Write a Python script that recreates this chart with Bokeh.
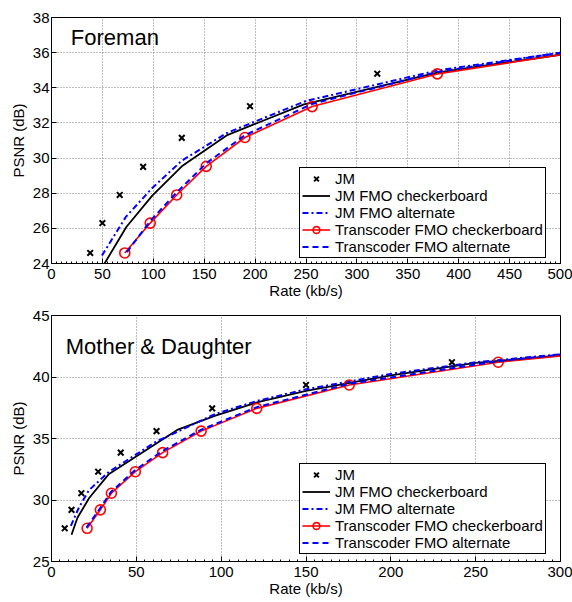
from bokeh.plotting import figure
from bokeh.models import Label, SingleIntervalTicker
from bokeh.layouts import column
from bokeh.embed import file_html
from bokeh.resources import INLINE

FONT = "Liberation Sans"

# ---------------- Foreman ----------------
fm_title = "Foreman"
fm_jm_rate = [38, 50, 67, 90, 128, 195, 320]
fm_jm_psnr = [24.6, 26.3, 27.9, 29.5, 31.15, 32.95, 34.8]

fm_jmchk_rate = [48, 73.5, 99, 128, 172, 248, 380, 500]
fm_jmchk_psnr = [23.6, 26.08, 27.86, 29.53, 31.29, 33.06, 34.88, 35.88]

fm_jmalt_rate = [49.5, 73, 99, 128, 172, 250, 380, 500]
fm_jmalt_psnr = [24.45, 26.65, 28.3, 29.85, 31.42, 33.25, 35.0, 36.0]

fm_trchk_rate = [72, 97, 123, 152, 190, 256, 379, 500]
fm_trchk_psnr = [24.6, 26.3, 27.9, 29.53, 31.17, 32.93, 34.79, 35.88]

fm_tralt_rate = [74, 97.5, 123, 152, 190, 256, 379, 500]
fm_tralt_psnr = [24.65, 26.45, 28.05, 29.7, 31.3, 33.08, 34.9, 36.0]

# ---------------- Mother & Daughter ----------------
md_title = "Mother & Daughter"
md_jm_rate = [7.8, 11.8, 17.6, 27.5, 40.8, 61.9, 94.7, 150, 236]
md_jm_psnr = [27.7, 29.2, 30.55, 32.3, 33.85, 35.6, 37.45, 39.35, 41.2]

md_jmchk_rate = [11.8, 15.3, 22.2, 33.9, 74.1, 96.6, 121, 150, 200, 250, 300]
md_jmchk_psnr = [27.17, 28.56, 30.16, 32.12, 35.7, 36.86, 37.93, 38.87, 40.13, 41.15, 41.76]

md_jmalt_rate = [11.4, 16.2, 22.1, 33.9, 61.4, 96.6, 121, 150, 200, 250, 300]
md_jmalt_psnr = [27.9, 29.4, 30.8, 32.3, 34.72, 37.0, 38.05, 39.0, 40.25, 41.2, 41.85]

md_trchk_rate = [21, 28.8, 35.3, 49.4, 65.5, 88.2, 121, 175.5, 263.3, 300]
md_trchk_psnr = [27.7, 29.2, 30.55, 32.3, 33.85, 35.6, 37.45, 39.35, 41.2, 41.72]

md_tralt_rate = [20.6, 28.5, 35, 49, 65, 88, 121, 175.5, 263, 300]
md_tralt_psnr = [27.76, 29.3, 30.65, 32.4, 33.95, 35.7, 37.55, 39.45, 41.28, 41.82]

LEGEND = ["JM", "JM FMO checkerboard", "JM FMO alternate",
          "Transcoder FMO checkerboard", "Transcoder FMO alternate"]


def panel(title, title_xy, xr, yr, xstep, ystep, series, top_border,
          frame_h, legend_loc):
    p = figure(frame_width=509, frame_height=frame_h, x_range=xr, y_range=yr,
               min_border_left=51, min_border_right=12, min_border_top=top_border,
               min_border_bottom=0,
               output_backend="svg", toolbar_location=None)
    p.background_fill_color = "white"
    p.border_fill_color = "white"
    p.outline_line_color = "black"
    p.outline_line_width = 1
    p.outline_line_alpha = 1

    p.xaxis.ticker = SingleIntervalTicker(interval=xstep, num_minor_ticks=10)
    p.yaxis.ticker = SingleIntervalTicker(interval=ystep, num_minor_ticks=0)
    for ax in (p.xaxis, p.yaxis):
        ax.axis_line_color = "black"
        ax.major_tick_in = 5
        ax.major_tick_out = 0
        ax.major_tick_line_color = "black"
        ax.major_label_text_font = FONT
        ax.major_label_text_font_size = "15px"
        ax.major_label_text_color = "black"
        ax.axis_label_text_font = FONT
        ax.axis_label_text_font_size = "15px"
        ax.axis_label_text_font_style = "normal"
        ax.axis_label_text_color = "black"
    p.xaxis.major_label_standoff = 5
    p.yaxis.major_label_standoff = 2
    p.xaxis.minor_tick_in = 2
    p.xaxis.minor_tick_out = 0
    p.xaxis.minor_tick_line_color = "black"
    p.yaxis.minor_tick_line_color = None
    p.xaxis.axis_label = "Rate (kb/s)"
    p.yaxis.axis_label = "PSNR (dB)"
    p.xaxis.axis_label_standoff = 0
    p.yaxis.axis_label_standoff = 3

    for g in (p.xgrid, p.ygrid):
        g.grid_line_color = "#7a7a7a"
        g.grid_line_dash = "1 2"
        g.grid_line_width = 1

    (jr, jp), (cr, cp), (ar, ap), (tr, tp), (sr, sp) = series
    p.scatter(jr, jp, marker="x", size=8, line_width=2, color="black",
              legend_label=LEGEND[0])
    p.line(cr, cp, line_color="black", line_width=1.8, legend_label=LEGEND[1])
    p.line(ar, ap, line_color="blue", line_width=2, line_dash="6 3 2 3",
           legend_label=LEGEND[2])
    p.line(tr, tp, line_color="red", line_width=1.6, legend_label=LEGEND[3])
    p.scatter(tr[:-1], tp[:-1], marker="circle", size=10, fill_color=None,
              line_color="red", line_width=1.6, legend_label=LEGEND[3])
    p.line(sr, sp, line_color="blue", line_width=2, line_dash="6 4",
           legend_label=LEGEND[4])

    p.add_layout(Label(x=title_xy[0], y=title_xy[1], text=title,
                       text_font=FONT, text_font_size="22px",
                       text_color="black", text_baseline="alphabetic"))

    lg = p.legend[0]
    lg.location = legend_loc
    lg.label_text_font = FONT
    lg.label_text_font_size = "15px"
    lg.label_text_color = "black"
    lg.padding = 2
    lg.spacing = 0
    lg.margin = 0
    lg.glyph_width = 28
    lg.glyph_height = 17
    lg.label_height = 17
    lg.label_standoff = 5
    lg.border_line_color = "black"
    lg.border_line_width = 1
    lg.border_line_alpha = 1
    lg.background_fill_color = "white"
    lg.background_fill_alpha = 1
    return p


p1 = panel(fm_title, (19, 36.85), (0, 500), (24, 38), 50, 2,
           [(fm_jm_rate, fm_jm_psnr), (fm_jmchk_rate, fm_jmchk_psnr),
            (fm_jmalt_rate, fm_jmalt_psnr), (fm_trchk_rate, fm_trchk_psnr),
            (fm_tralt_rate, fm_tralt_psnr)], 17, 246, (248, 5))
p2 = panel(md_title, (8.4, 42.5), (0, 300), (25, 45), 50, 5,
           [(md_jm_rate, md_jm_psnr), (md_jmchk_rate, md_jmchk_psnr),
            (md_jmalt_rate, md_jmalt_psnr), (md_trchk_rate, md_trchk_psnr),
            (md_tralt_rate, md_tralt_psnr)], 14, 246, (248, 7))

layout = column(p1, p2, spacing=0)
open("out.html", "w").write(file_html(layout, INLINE))
